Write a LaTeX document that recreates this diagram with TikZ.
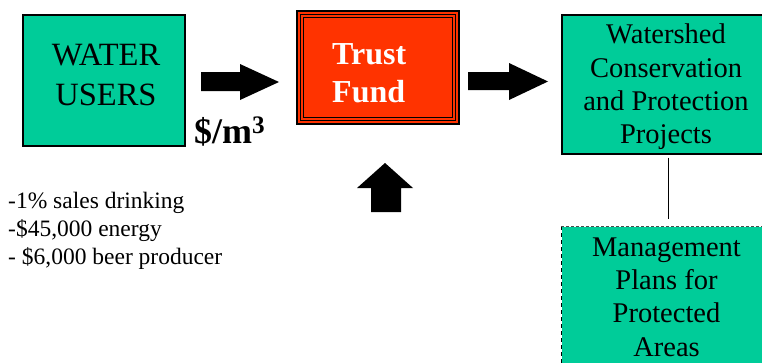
\documentclass[tikz,border=0pt]{standalone}
\usepackage{fontspec}
\setmainfont{Liberation Serif}
\usepackage{tikz}
\usetikzlibrary{positioning,calc}
\definecolor{seagreen}{RGB}{0,204,153}
\definecolor{fundred}{RGB}{255,51,0}
\tikzset{greenbox/.style={draw=black,line width=1.3pt,fill=seagreen,inner sep=0pt}}
\tikzset{fundbox/.style={draw=black,line width=2.6pt,fill=fundred,inner sep=0pt}}
\tikzset{blockarrow/.style={fill=black}}
\tikzset{boxtext/.style={align=center,inner sep=0pt}}
\tikzset{link/.style={line width=1pt}}

\begin{document}
\begin{tikzpicture}[x=1pt,y=-1pt]
  \path[use as bounding box,clip] (0,0) rectangle (762,362);
  \fill[white] (0,0) rectangle (762,362);
  % boxes
  \node[greenbox,minimum width=162pt,minimum height=131pt] (users) at (104,80.5) {};
  \node[boxtext,font=\rmfamily\fontsize{32.5}{40}\selectfont] (userstext) at (106,75) {WATER\\USERS};
  \node[fundbox,minimum width=162pt,minimum height=113pt] (fund) at (378,67.5) {};
  \foreach \d in {5,8}
    \draw[line width=1.1pt] ([shift={(\d pt,-\d pt)}]fund.north west) rectangle ([shift={(-\d pt,\d pt)}]fund.south east);
  \node[boxtext,align=left,anchor=west,text=white,font=\rmfamily\bfseries\fontsize{32}{38}\selectfont] (fundtext) at (332,73.5) {Trust\\Fund};
  \node[greenbox,minimum width=212pt,minimum height=139pt] (projects) at (668,84.5) {};
  \node[boxtext,font=\rmfamily\fontsize{28.5}{33.3}\selectfont] (projtext) at (666,87) {Watershed\\Conservation\\and Protection\\Projects};
  \node[greenbox,draw=none,minimum width=212pt,minimum height=145pt] (plans) at (668,299.5) {};
  \draw[line width=1.5pt,dash pattern=on 4pt off 3pt] (plans.north west) -- (plans.south west);
  \draw[line width=0.8pt,black!70,dash pattern=on 3pt off 2pt] (plans.north west) -- (plans.north east);
  \node[boxtext,font=\rmfamily\fontsize{28.5}{33.3}\selectfont] (planstext) at (666.5,297) {Management\\Plans for\\Protected\\Areas};
  \draw[link,shorten <=3pt,shorten >=7pt] (projects.south) -- (plans.north);
  % block arrows
  \fill[blockarrow] (201,72) -- (240,72) -- (240,64) -- (279,82) -- (240,100) -- (240,91) -- (201,91) -- cycle;
  \fill[blockarrow] (468,72) -- (509,72) -- (509,63) -- (548,81.5) -- (509,100) -- (509,90) -- (468,90) -- cycle;
  \fill[blockarrow] (371,212) -- (371,188) -- (357,188) -- (385,163) -- (413,188) -- (401,188) -- (401,212) -- cycle;
  % labels
  \node[anchor=base west,inner sep=0pt,font=\rmfamily\bfseries\fontsize{36}{40}\selectfont] (price) at (194,143) {\$/m\textsuperscript{3}};
  \node[anchor=north west,align=left,inner sep=0pt,font=\rmfamily\fontsize{23.5}{28}\selectfont] (sources) at (8,192)
    {-1\% sales drinking\\-\$45,000 energy\\- \$6,000 beer producer};
\end{tikzpicture}
\end{document}
